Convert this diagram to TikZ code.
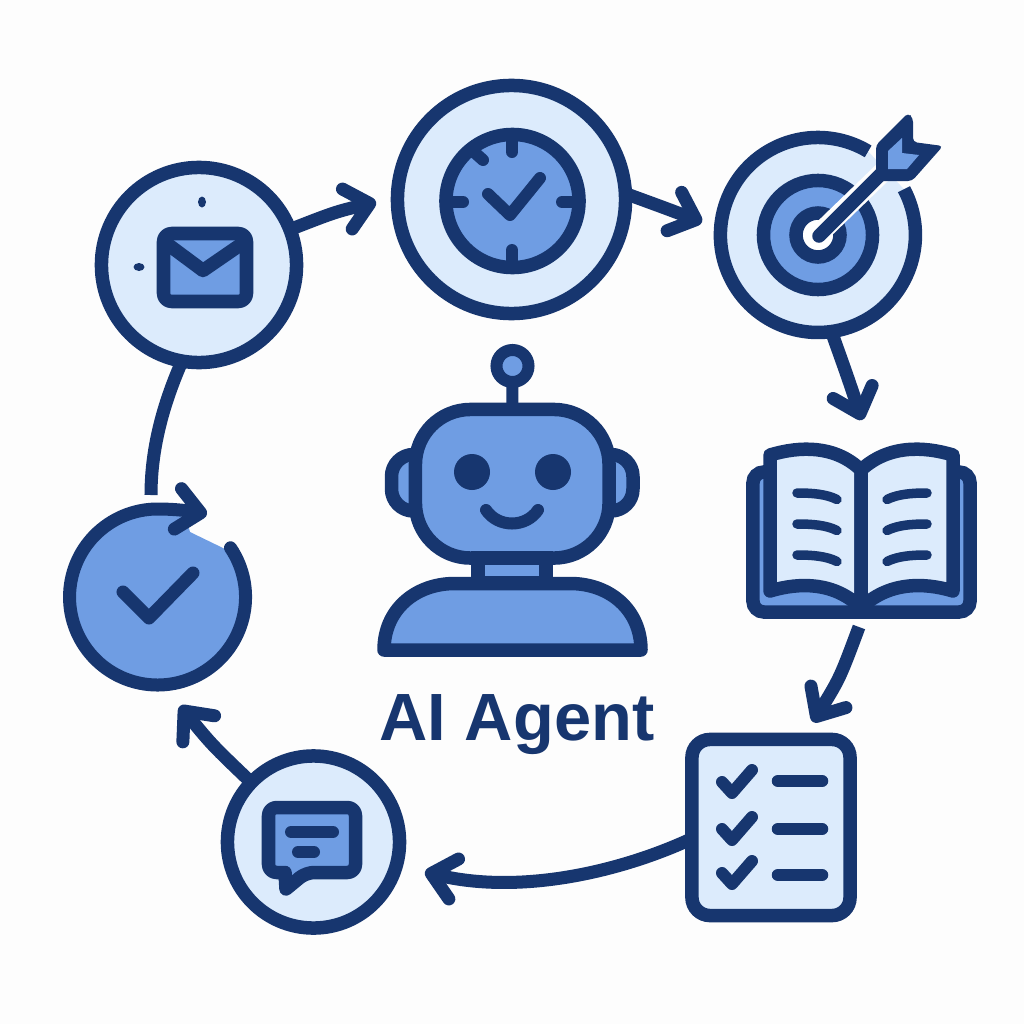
\documentclass[tikz,border=0pt]{standalone}
\usepackage{fontspec}
\setmainfont{Liberation Sans}
\usetikzlibrary{arrows.meta}
\definecolor{navy}{HTML}{17366F}
\definecolor{midblue}{HTML}{6F9DE3}
\definecolor{paleblue}{HTML}{DCEBFC}
\definecolor{paper}{HTML}{FDFDFD}
\tikzset{
  ringnode/.style={circle, draw=navy, fill=paleblue, line width=1.35mm, inner sep=0pt, outer sep=0pt},
  boxnode/.style={rectangle, draw=navy, line width=1.35mm, inner sep=0pt, outer sep=0pt},
  barbtip/.style={-{Straight Barb[round,length=2.3mm,width=4.1mm]}},
  flow/.style={draw=navy, line width=1.3mm, barbtip},
  icon/.style={draw=navy, line width=1.35mm, line join=round},
  stroke/.style={draw=navy, line width=1.2mm, line cap=round, line join=round}
}
\begin{document}
\begin{tikzpicture}[x=0.01cm, y=0.01cm, yscale=-1]
    \useasboundingbox (0,0) rectangle (1024,1024);
    \fill[paper] (0,0) rectangle (1024,1024);

    % stations round the loop
    \node[ringnode, minimum size=1.95cm] (mail) at (199,265) {};
    \node[ringnode, minimum size=2.28cm] (clock) at (511.5,199.5) {};
    \node[ringnode, minimum size=1.72cm] (chat) at (313.5,842) {};
    \node[circle, minimum size=1.95cm, inner sep=0pt] (target) at (818,235) {};
    \node[circle, minimum size=1.76cm, inner sep=0pt] (done) at (157.5,597) {};
    \node[boxnode, fill=midblue, rounded corners=1.1mm, minimum width=2.17cm, minimum height=1.4cm] (book) at (861.5,542) {};
    \node[boxnode, fill=paleblue, rounded corners=1.8mm, minimum width=1.58cm, minimum height=1.76cm] (checklist) at (771,827.5) {};

    % free ends of the connectors
    \coordinate (tipclock) at (376,202);
    \coordinate (tiptarget) at (702,222);
    \coordinate (tipbook) at (862,420);
    \coordinate (startchecklist) at (859,627);
    \coordinate (tipchecklist) at (813,722);
    \coordinate (tipchat) at (425,872);
    \coordinate (tipdone) at (180,706);
    \coordinate (enddone) at (151,495);

    \draw[flow] (mail) .. controls (335,212) .. (tipclock);
    \draw[flow] (clock.3) .. controls (665,208) .. (tiptarget);
    \draw[flow] (target.278) .. controls (848,378) .. (tipbook);
    \draw[flow] (startchecklist) .. controls (840,678) .. (tipchecklist);
    \draw[flow] (checklist.188) .. controls (620,872) and (520,895) .. (tipchat);
    \draw[flow] (chat) .. controls (212,745) .. (tipdone);
    \draw[draw=navy, line width=1.3mm] (mail.260) .. controls (165,400) and (151,445) .. (enddone);

    % mail
    \draw[icon, fill=midblue, rounded corners=0.8mm] (163.5,233.5) rectangle (246.5,301.5);
    \draw[icon] (166,243) -- (203,270.5) -- (243,243);
    \fill[navy] (202,202) ellipse (4 and 5.5);
    \fill[navy] (139,267) ellipse (5.5 and 4);

    % clock
    \node[ringnode, fill=midblue, minimum size=1.33cm] (dial) at (512.5,201) {};
    \draw[stroke] (512,140) -- (512,152);
    \draw[stroke] (512,262) -- (512,250);
    \draw[stroke] (450,202) -- (463,202);
    \draw[stroke] (575,202) -- (562,202);
    \draw[stroke] (474,152) -- (483,160);
    \draw[stroke] (488,194) -- (510,215) -- (540,178);

    % target
    \fill[paleblue] (904,189.2) arc[start angle=-28, end angle=301, radius=97.5] -- cycle;
    \draw[draw=navy, line width=1.35mm] (904,189.2) arc[start angle=-28, end angle=301, radius=97.5];
    \node[ringnode, fill=midblue, minimum size=1.09cm] (outerring) at (818,235) {};
    \node[ringnode, fill=white, minimum size=0.44cm] (innerring) at (818,235) {};
    \draw[draw=paper, line width=2mm] (824,229) -- (885,170);
    \draw[draw=navy, line width=1.35mm, line cap=round] (819,236) -- (885,170);
    \fill[navy, rounded corners=0.4mm] (876,145) -- (908,113) -- (913,118) -- (913,142) -- (943,146) -- (912,181) -- (876,181) -- cycle;
    \fill[midblue] (902,138) -- (902,153) -- (919,155) -- (907,169) -- (888,169) -- (888,151) -- cycle;

    % book
    \draw[icon, fill=paleblue] (770,455) .. controls (800,446) and (835,445) .. (861,470) -- (861,608) .. controls (835,582) and (800,582) .. (770,591) -- cycle;
    \draw[icon, fill=paleblue] (953,455) .. controls (923,446) and (888,445) .. (861,470) -- (861,608) .. controls (888,582) and (923,582) .. (953,591) -- cycle;
    \foreach \rowy in {493,524,555} {
        \draw[stroke, line width=0.95mm] (797,\rowy) .. controls (812,\rowy) and (826,\rowy+1) .. (837,\rowy+6.5);
        \draw[stroke, line width=0.95mm] (927,\rowy) .. controls (912,\rowy) and (898,\rowy+1) .. (887,\rowy+6.5);
    }

    % checklist
    \foreach \rowy/\liney in {782/781, 829/829, 873/875} {
        \draw[stroke] (722,\rowy) -- (732,\rowy+11) -- (752,\rowy-12);
        \draw[stroke, line width=1.25mm] (778,\liney) -- (822,\liney);
    }

    % chat
    \draw[icon, fill=midblue, rounded corners=0.8mm] (268.5,807.5) -- (355.5,807.5) -- (355.5,872.5) -- (306,872.5) [sharp corners] -- (286,889) -- (285,872.5) [rounded corners=0.8mm] -- (268.5,872.5) -- cycle;
    \draw[stroke] (291,832) -- (333,832);
    \draw[stroke] (298,852) -- (314,852);

    % done
    \fill[midblue] (227.1,550) arc[start angle=-34, end angle=290, radius=84] -- (190,532) -- cycle;
    \draw[draw=navy, line width=1.3mm, line cap=round, barbtip] (230.5,547.8) arc[start angle=-34, end angle=270, radius=88] .. controls (175,509) and (190,511) .. (207,514);
    \draw[stroke, line width=1.3mm] (123,592) -- (149,618) -- (193,573);

    % robot
    \draw[icon, fill=midblue, rounded corners=2.2mm] (440,454.5) rectangle (391.5,511);
    \draw[icon, fill=midblue, rounded corners=2.2mm] (585,454.5) rectangle (633,511);
    \node[ringnode, fill=midblue, line width=1.2mm, minimum size=0.32cm] (antenna) at (512.5,366) {};
    \node[boxnode, fill=midblue, rounded corners=5.5mm, minimum width=1.935cm, minimum height=1.485cm] (head) at (512.25,483.75) {};
    \draw[draw=navy, line width=1.2mm] (antenna) -- (head);
    \node[boxnode, fill=midblue, minimum width=0.68cm, minimum height=0.25cm] (neck) at (512,570.5) {};
    \draw[icon, fill=midblue] (384,650) .. controls (384,610) and (415,583.5) .. (455,583.5) -- (570,583.5) .. controls (610,583.5) and (641,610) .. (641,650) -- cycle;
    \fill[navy] (472,472) circle (18);
    \fill[navy] (553,472) circle (18);
    \draw[stroke] (486,510) .. controls (498,528) and (526,528) .. (538,510);

    \node[anchor=base, text=navy, font=\bfseries\fontsize{19}{19}\selectfont] (label) at (517,740) {AI Agent};
\end{tikzpicture}
\end{document}
